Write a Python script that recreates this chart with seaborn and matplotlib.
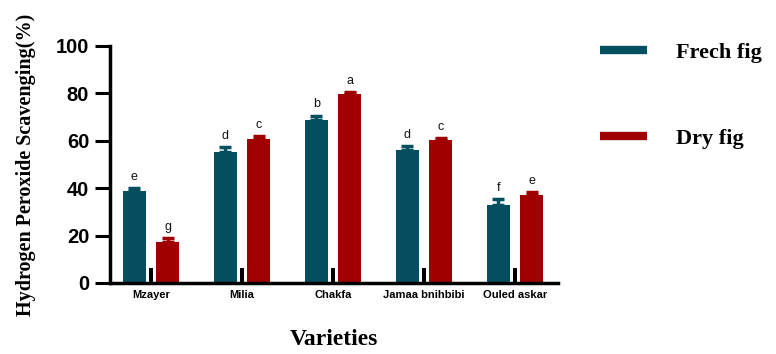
import numpy as np
import pandas as pd
import matplotlib
matplotlib.use("Agg")
import matplotlib.pyplot as plt
from matplotlib.lines import Line2D
import seaborn as sns

# Hydrogen peroxide scavenging of fresh and dried figs by variety
varieties = ["Mzayer", "Milia", "Chakfa", "Jamaa bnihbibi", "Ouled askar"]
fresh_mean = [38.8, 55.4, 68.9, 56.1, 32.9]
fresh_err = [1.2, 2.0, 1.7, 1.7, 2.6]
dry_mean = [17.3, 60.9, 79.7, 60.3, 37.1]
dry_err = [1.5, 1.1, 0.8, 0.7, 1.1]
fresh_letters = ["e", "d", "b", "d", "f"]
dry_letters = ["g", "c", "a", "c", "e"]
marker_vals = [6.2, 6.2, 6.2, 6.2, 6.2]
groups = ["Frech fig", "Dry fig"]

colors = {"Frech fig": "#034F5F", "Dry fig": "#A00000"}

df = pd.DataFrame({
    "Variety": varieties * 2,
    "Group": [groups[0]] * len(varieties) + [groups[1]] * len(varieties),
    "Value": fresh_mean + dry_mean,
})

sns.set_style("white")
plt.rcParams.update({"text.color": "black", "axes.labelcolor": "black",
                     "xtick.color": "black", "ytick.color": "black"})
serif = ["Liberation Serif", "DejaVu Serif"]
sans = ["Liberation Sans", "DejaVu Sans"]

fig = plt.figure(figsize=(7.76, 3.54), dpi=100)
ax = fig.add_axes([0.1418, 0.2006, 0.577, 0.6695])

sns.barplot(data=df, x="Variety", y="Value", hue="Group", order=varieties,
            hue_order=groups, palette=colors, width=0.74, gap=0.32,
            errorbar=None, legend=False, ax=ax, linewidth=0, saturation=1)

# thin black marker bar in the middle of each group
sns.barplot(x=varieties, y=marker_vals, order=varieties, color="black",
            width=0.045, errorbar=None, ax=ax, linewidth=0, saturation=1)

# one-sided error bars and significance letters
for cont, errs, letters, grp in zip(ax.containers[:2], [fresh_err, dry_err],
                                    [fresh_letters, dry_letters], groups):
    for bar, e, lab in zip(cont, errs, letters):
        xc = bar.get_x() + bar.get_width() / 2
        h = bar.get_height()
        ax.errorbar(xc, h, yerr=[[0], [e]], fmt="none", ecolor=colors[grp],
                    elinewidth=2.5, capsize=4.5, capthick=2.5, zorder=1)
        ax.text(xc, h + e + 2.2, lab, ha="center", va="bottom",
                fontsize=9, family=sans, color="#111111")

ax.set_ylim(0, 100)
ax.set_xlim(-0.45, 4.47)
ax.set_yticks([0, 20, 40, 60, 80, 100])
ax.tick_params(axis="y", left=True, length=11, width=2.2, direction="out",
               pad=4, labelsize=14.5, colors="black")
ax.tick_params(axis="x", bottom=False, length=0, pad=5, labelsize=8,
               colors="black")
for t in ax.get_yticklabels():
    t.set_fontfamily(sans)
    t.set_fontweight("heavy")
for t in ax.get_xticklabels():
    t.set_fontfamily(sans)
    t.set_fontweight("bold")

for side in ["top", "right"]:
    ax.spines[side].set_visible(False)
for side in ["left", "bottom"]:
    ax.spines[side].set_linewidth(2.5)
    ax.spines[side].set_color("black")

ax.set_xlabel("Varieties", family=serif, fontweight="bold", fontsize=17,
              labelpad=21)
ax.set_ylabel("Hydrogen Peroxide Scavenging(%)", family=serif,
              fontweight="bold", fontsize=14.5, labelpad=14)

handles = [Line2D([0], [0], color=colors[g], lw=6, solid_capstyle="butt")
           for g in groups]
fig.legend(handles, groups, loc="upper left",
           bbox_to_anchor=(0.762, 0.905), frameon=False,
           prop={"family": serif, "weight": "bold", "size": 16},
           handlelength=2.1, handletextpad=1.3, labelspacing=2.95,
           borderaxespad=0)

fig.savefig("out.png", dpi=100)
